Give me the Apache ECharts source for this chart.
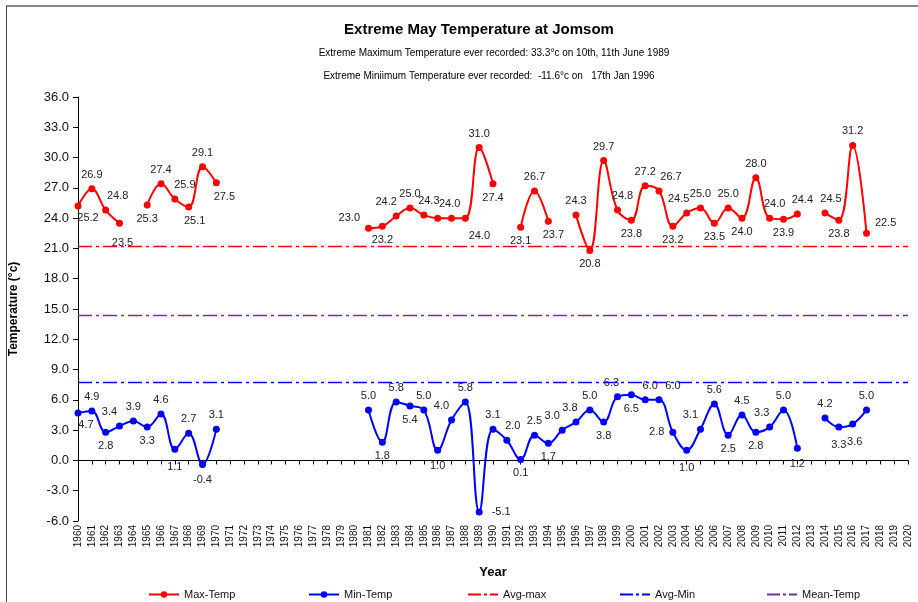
<!DOCTYPE html>
<html>
<head>
<meta charset="utf-8">
<script src="https://cdn.jsdelivr.net/npm/echarts@6/dist/echarts.min.js"></script>
<style>
html,body{margin:0;padding:0;background:#fff;}
#chart{width:918px;height:602px;position:absolute;left:0;top:0;}
#frame{position:absolute;left:6px;top:5px;width:912px;height:597px;border-top:2px solid #888;border-left:1px solid #444;pointer-events:none;}
</style>
</head>
<body>
<div id="chart"></div>
<div id="frame"></div>
<script>
// ---- data ----
const years = ['1960','1961','1962','1963','1964','1965','1966','1967','1968','1969',
'1970','1971','1972','1973','1974','1975','1976','1977','1978','1979',
'1980','1981','1982','1983','1984','1985','1986','1987','1988','1989',
'1990','1991','1992','1993','1994','1995','1996','1997','1998','1999',
'2000','2001','2002','2003','2004','2005','2006','2007','2008','2009',
'2010','2011','2012','2013','2014','2015','2016','2017','2018','2019','2020'];

const maxTemp = [25.2,26.9,24.8,23.5,null,25.3,27.4,25.9,25.1,29.1,
27.5,null,null,null,null,null,null,null,null,null,
null,23.0,23.2,24.2,25.0,24.3,24.0,24.0,24.0,31.0,
27.4,null,23.1,26.7,23.7,null,24.3,20.8,29.7,24.8,
23.8,27.2,26.7,23.2,24.5,25.0,23.5,25.0,24.0,28.0,
24.0,23.9,24.4,null,24.5,23.8,31.2,22.5,null,null,null];

const minTemp = [4.7,4.9,2.8,3.4,3.9,3.3,4.6,1.1,2.7,-0.4,
3.1,null,null,null,null,null,null,null,null,null,
null,5.0,1.8,5.8,5.4,5.0,1.0,4.0,5.8,-5.1,
3.1,2.0,0.1,2.5,1.7,3.0,3.8,5.0,3.8,6.3,
6.5,6.0,6.0,2.8,1.0,3.1,5.6,2.5,4.5,2.8,
3.3,5.0,1.2,null,4.2,3.3,3.6,5.0,null,null,null];

const avgMax = 21.2;
const avgMin = 7.7;
const meanTemp = 14.4;

const yTicks = {min: -6, max: 36, step: 3};

// ---- label placement (style, kept apart from data) ----
const maxLbl = {
1960:['b',10,-2],1961:['t'],1962:['t',12,0],1963:['b',3,6],1965:['b'],1966:['t'],1967:['t',10,0],1968:['b',6,0],1969:['t'],1970:['b',8,0],
1981:['l',0,-10],1982:['b'],1983:['t',-10,0],1984:['t'],1985:['t',5,0],1986:['t',12,0],1987:['n'],1988:['b',14,4],1989:['t'],1990:['b'],
1992:['b'],1993:['t'],1994:['b',5,0],
1996:['t'],1997:['b'],1998:['t'],1999:['t',5,0],2000:['b'],2001:['t'],2002:['t',12,0],2003:['b'],2004:['t',-8,0],2005:['t'],2006:['b'],2007:['t'],2008:['b'],2009:['t'],2010:['t',5,0],2011:['b'],2012:['t',5,0],
2014:['t',6,0],2015:['b'],2016:['t'],2017:['r',0,-10]
};
const minLbl = {
1960:['b',8,-2],1961:['t'],1962:['b'],1963:['t',-10,0],1964:['t'],1965:['b'],1966:['t'],1967:['b',0,4],1968:['t'],1969:['b',0,2],1970:['t'],
1981:['t'],1982:['b'],1983:['t'],1984:['b'],1985:['t'],1986:['b',0,2],1987:['t',-10,0],1988:['t'],1989:['r',4,0],1990:['t'],
1991:['t',6,0],1992:['b'],1993:['t'],1994:['b'],1995:['t',-10,0],
1996:['t',-6,0],1997:['t'],1998:['b'],1999:['t',-6,0],2000:['b'],2001:['t',5,0],2002:['t',14,0],2003:['l'],2004:['b',0,4],2005:['t',-10,0],
2006:['t'],2007:['b'],2008:['t'],2009:['b'],2010:['t',-8,0],2011:['t'],2012:['b',0,2],
2014:['t'],2015:['b',0,4],2016:['b',2,4],2017:['t']
};
const posMap = {t:'top',b:'bottom',l:'left',r:'right'};
function build(values, lbl){
  return values.map(function(v,i){
    if(v===null) return null;
    const c = lbl[years[i]] || ['t'];
    if(c[0]==='n') return {value:v, label:{show:false}};
    return {value:v, label:{position:posMap[c[0]], offset:[c[1]||0,c[2]||0]}};
  });
}

const FONT = 'Liberation Sans, Arial, sans-serif';
const chart = echarts.init(document.getElementById('chart'), null, {renderer:'canvas'});

const dashDot = [14,4,3,4];
const dashDotIcon = 'path://M0,0h13v2h-13z M16,0h3v2h-3z M22,0h8v2h-8z';
function refLine(name, color, val){
  return {
    name:name, type:'line', data:[], symbol:'none',
    lineStyle:{color:color, width:1.3, type:dashDot},
    itemStyle:{color:color},
    markLine:{silent:true, symbol:'none', animation:false,
      label:{show:false},
      lineStyle:{color:color, width:1.3, type:dashDot},
      data:[{yAxis:val}]}
  };
}
function legendAt(name, left, icon){
  const item = icon ? {name:name, icon:icon} : name;
  return {data:[item], left:left, top:584, itemWidth:30, itemHeight:icon?2:8, itemGap:5,
    textStyle:{fontFamily:FONT, fontSize:11, color:'#111'}};
}

const option = {
  animation:false,
  textStyle:{fontFamily:FONT},
  title:[
    {text:'Extreme May Temperature at Jomsom', left:474, top:17, textAlign:'center',
     textStyle:{fontFamily:FONT, fontSize:15, fontWeight:'bold', color:'#000'}},
    {text:'Extreme Maximum Temperature ever recorded: 33.3°c on 10th, 11th June 1989', left:489, top:43, textAlign:'center',
     textStyle:{fontFamily:FONT, fontSize:10, fontWeight:'normal', color:'#000'}},
    {text:'Extreme Miniimum Temperature ever recorded:  -11.6°c on   17th Jan 1996', left:484, top:66, textAlign:'center',
     textStyle:{fontFamily:FONT, fontSize:10, fontWeight:'normal', color:'#000'}}
  ],
  legend:[
    legendAt('Max-Temp',143), legendAt('Min-Temp',303), legendAt('Avg-max',463,dashDotIcon),
    legendAt('Avg-Min',615,dashDotIcon), legendAt('Mean-Temp',762,dashDotIcon)
  ],
  grid:{left:75, right:10, top:97, bottom:81, containLabel:false},
  xAxis:{
    type:'category', data:years, boundaryGap:false,
    name:'Year', nameLocation:'middle', nameGap:45,
    nameTextStyle:{fontFamily:FONT, fontSize:13, fontWeight:'bold', color:'#000'},
    axisLine:{lineStyle:{color:'#000', width:1}},
    axisTick:{show:true, length:4, interval:0, lineStyle:{color:'#000'}},
    axisLabel:{interval:0, rotate:90, fontSize:10, color:'#111', fontFamily:FONT, margin:4},
    splitLine:{show:false}
  },
  yAxis:{
    type:'value', min:yTicks.min, max:yTicks.max, interval:yTicks.step,
    name:'Temperature (°c)', nameLocation:'middle', nameGap:58, nameRotate:90,
    nameTextStyle:{fontFamily:FONT, fontSize:12, fontWeight:'bold', color:'#000'},
    axisLine:{show:true, lineStyle:{color:'#000', width:1}},
    axisTick:{show:true, length:5, lineStyle:{color:'#000'}},
    axisLabel:{fontSize:13, color:'#111', fontFamily:FONT, margin:9,
      formatter:function(v){return v.toFixed(1);}},
    splitLine:{show:false}
  },
  series:[
    {name:'Max-Temp', type:'line', data:build(maxTemp,maxLbl), smooth:0.4, connectNulls:false,
     symbol:'circle', symbolSize:7, lineStyle:{color:'#ff0000', width:2}, itemStyle:{color:'#ff0000'},
     label:{show:true, fontSize:11, color:'#222', fontFamily:FONT, formatter:function(p){return p.value.toFixed(1);}}},
    {name:'Min-Temp', type:'line', data:build(minTemp,minLbl), smooth:0.4, connectNulls:false,
     symbol:'circle', symbolSize:7, lineStyle:{color:'#0000ff', width:2}, itemStyle:{color:'#0000ff'},
     label:{show:true, fontSize:11, color:'#222', fontFamily:FONT, formatter:function(p){return p.value.toFixed(1);}}},
    refLine('Avg-max','#ff0000',avgMax),
    refLine('Avg-Min','#0000ff',avgMin),
    refLine('Mean-Temp','#7030a0',meanTemp)
  ]
};
chart.setOption(option);
</script>
</body>
</html>
